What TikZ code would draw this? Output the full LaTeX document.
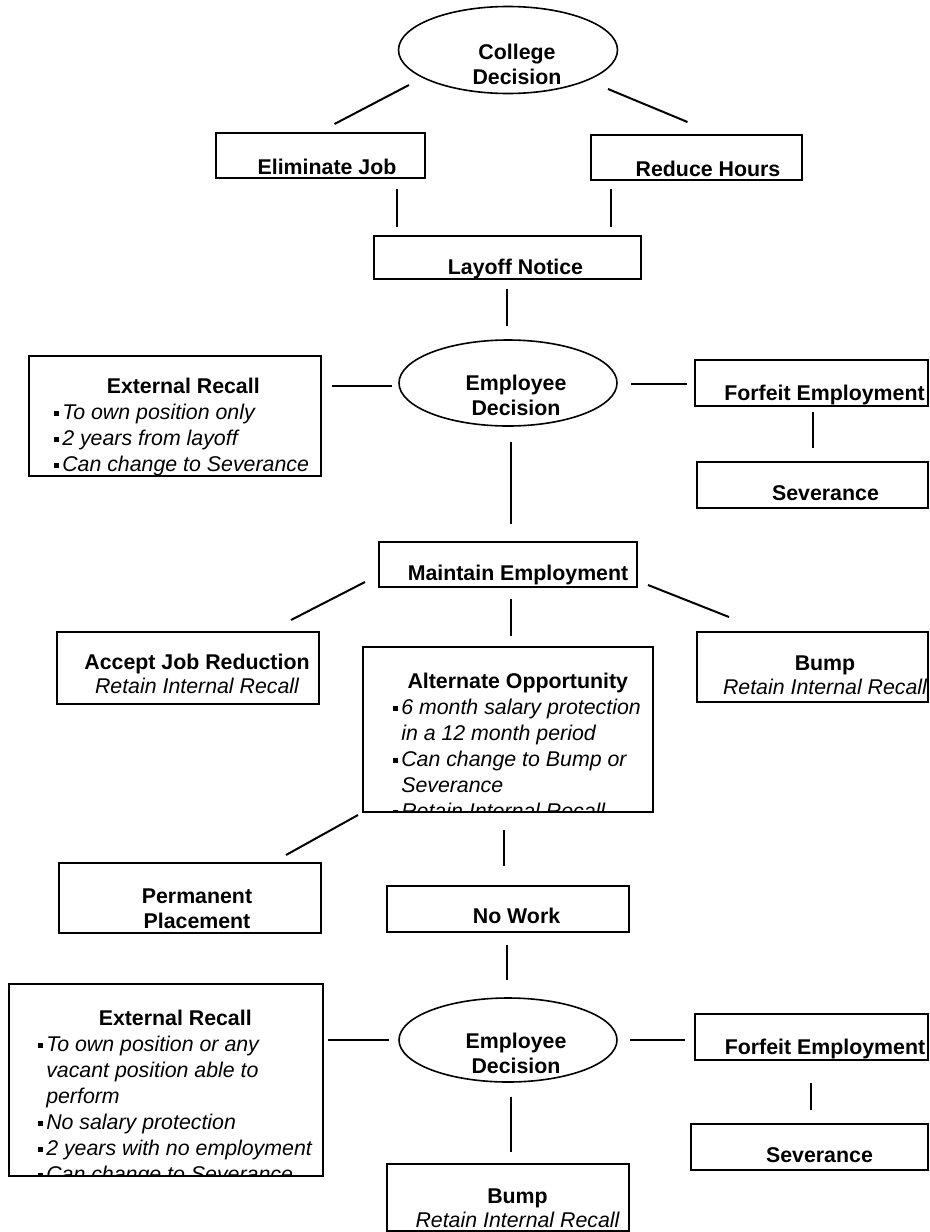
\documentclass[tikz,border=0pt]{standalone}
\usepackage{fontspec}
\setmainfont{Liberation Sans}
\usepackage{tikz}
\usetikzlibrary{shapes,arrows,positioning,fit}

\newcommand{\bul}{\rule[3pt]{3.5pt}{3.5pt}\hspace*{2.5pt}}
\newcommand{\nob}{\hspace*{6pt}}

\begin{document}
\begin{tikzpicture}[x=0.75pt,y=-0.75pt,
	font=\fontsize{16}{19.5}\selectfont,
	frame/.style={draw,line width=1.5pt,inner sep=0pt,outer sep=0pt},
	oval/.style={shape=ellipse,draw,line width=1.2pt,inner sep=0pt,outer sep=0pt},
	title/.style={anchor=north,inner sep=0pt,align=center,font=\fontsize{16}{18.75}\selectfont\bfseries},
	pair/.style={title,font=\fontsize{16}{18}\selectfont\bfseries},
	notes/.style={anchor=north west,inner sep=0pt,align=left,font=\fontsize{16}{19.5}\selectfont\itshape},
	link/.style={draw,line width=1.5pt}]
	\useasboundingbox (0,0) rectangle (930,1232);

	\node[oval,minimum width=164.25pt,minimum height=65.25pt] (college) at (508,50) {};
	\node[frame,fit={(216,133) (425,178)}] (elim) {};
	\node[frame,fit={(591,135) (802,180)}] (reduce) {};
	\node[frame,fit={(374,236) (641,279)}] (layoff) {};
	\node[oval,minimum width=163.5pt,minimum height=64.5pt] (emp1) at (508,383) {};
	\node[frame,fit={(29,356) (321,476)}] (ext1) {};
	\node[frame,fit={(695,360) (928,406)}] (forf1) {};
	\node[frame,fit={(697,462) (928,508)}] (sev1) {};
	\node[frame,fit={(379,542) (637,587)}] (maintain) {};
	\node[frame,fit={(57,632) (319,704)}] (accept) {};
	\node[frame,fit={(363,647) (653,812)}] (alt) {};
	\node[frame,fit={(697,632) (928,702)}] (bump1) {};
	\node[frame,fit={(59,863) (321,933)}] (perm) {};
	\node[frame,fit={(387,886) (629,932)}] (nowork) {};
	\node[frame,fit={(9,984) (323,1176)}] (ext2) {};
	\node[oval,minimum width=163.5pt,minimum height=63pt] (emp2) at (508,1040) {};
	\node[frame,fit={(695,1014) (928,1060)}] (forf2) {};
	\node[frame,fit={(691,1124) (928,1170)}] (sev2) {};
	\node[frame,fit={(387,1164) (629,1231)}] (bump2) {};

	\node[title] (collegeT) at (517,44) {College\\Decision};
	\node[title] (elimT) at (327,159) {Eliminate Job};
	\node[title] (reduceT) at (708,161) {Reduce Hours};
	\node[title] (layoffT) at (515.5,259) {Layoff Notice};
	\node[title] (emp1T) at (516,375) {Employee\\Decision};
	\node[notes] (ext1T) at (54,378) {\makebox[193.5pt][c]{\upshape\bfseries External Recall}\\
		\bul To own position only\\
		\bul 2 years from layoff\\
		\bul Can change to Severance};
	\node[title] (forf1T) at (824.5,385) {Forfeit Employment};
	\node[title] (sev1T) at (825.5,485) {Severance};
	\node[title] (maintainT) at (518,565) {Maintain Employment};
	\node[pair] (acceptT) at (197,654) {Accept Job Reduction\\{\mdseries\itshape Retain Internal Recall}};
	\node[pair] (bump1T) at (825,656) {Bump\\{\mdseries\itshape Retain Internal Recall}};
	\begin{scope}
		\clip (alt.north west) rectangle (alt.south east);
		\node[notes] (altT) at (393,673) {\makebox[186.75pt][c]{\upshape\bfseries Alternate Opportunity}\\
			\bul 6 month salary protection\\
			\nob in a 12 month period\\
			\bul Can change to Bump or\\
			\nob Severance\\
			\bul Retain Internal Recall};
	\end{scope}
	\node[title] (permT) at (197,889) {Permanent\\Placement};
	\node[title] (noworkT) at (516.5,908) {No Work};
	\begin{scope}
		\clip (ext2.north west) rectangle (ext2.south east);
		\node[notes] (ext2T) at (38,1010) {\makebox[205.5pt][c]{\upshape\bfseries External Recall}\\
			\bul To own position or any\\
			\nob vacant position able to\\
			\nob perform\\
			\bul No salary protection\\
			\bul 2 years with no employment\\
			\bul Can change to Severance};
	\end{scope}
	\node[title] (emp2T) at (516,1033) {Employee\\Decision};
	\node[title] (forf2T) at (825,1039) {Forfeit Employment};
	\node[title] (sev2T) at (819.5,1147) {Severance};
	\node[pair] (bump2T) at (517.5,1189) {Bump\\{\mdseries\itshape Retain Internal Recall}};

	\path ([shift={(-99,35)}]college.center) edge[link] ([shift={(14,-9)}]elim.north);
	\path ([shift={(100,39)}]college.center) edge[link] ([shift={(-9,-13)}]reduce.north);
	\path ([shift={(76.5,11)}]elim.south) edge[link] ([shift={(-110.5,-9)}]layoff.north);
	\path ([shift={(-85.5,9)}]reduce.south) edge[link] ([shift={(103.5,-9)}]layoff.north);
	\path ([shift={(-0.5,10)}]layoff.south) edge[link] ([shift={(-1,-14)}]emp1.north);
	\path ([shift={(-7,3)}]emp1.west) edge[link] ([shift={(11,-30)}]ext1.east);
	\path ([shift={(14,1)}]emp1.east) edge[link] ([shift={(-8,1)}]forf1.west);
	\path ([shift={(1.5,6)}]forf1.south) edge[link] ([shift={(0.5,-14)}]sev1.north);
	\path ([shift={(3,16)}]emp1.south) edge[link] ([shift={(3,-18)}]maintain.north);
	\path ([shift={(-14,-5)}]maintain.south west) edge[link] ([shift={(103,-12)}]accept.north);
	\path ([shift={(3,12)}]maintain.south) edge[link] ([shift={(3,-11)}]alt.north);
	\path ([shift={(11,-2)}]maintain.south east) edge[link] ([shift={(-83.5,-15)}]bump1.north);
	\path ([shift={(-5,3)}]alt.south west) edge[link] ([shift={(96,-8)}]perm.north);
	\path ([shift={(-4,18)}]alt.south) edge[link] ([shift={(-4,-20)}]nowork.north);
	\path ([shift={(-1,13)}]nowork.south) edge[link] ([shift={(-1,-18)}]emp2.north);
	\path ([shift={(-10,0)}]emp2.west) edge[link] ([shift={(5,-40)}]ext2.east);
	\path ([shift={(13,0)}]emp2.east) edge[link] ([shift={(-10,3)}]forf2.west);
	\path ([shift={(-0.5,23)}]forf2.south) edge[link] ([shift={(1.5,-14)}]sev2.north);
	\path ([shift={(3,15)}]emp2.south) edge[link] ([shift={(3,-12)}]bump2.north);
\end{tikzpicture}
\end{document}
